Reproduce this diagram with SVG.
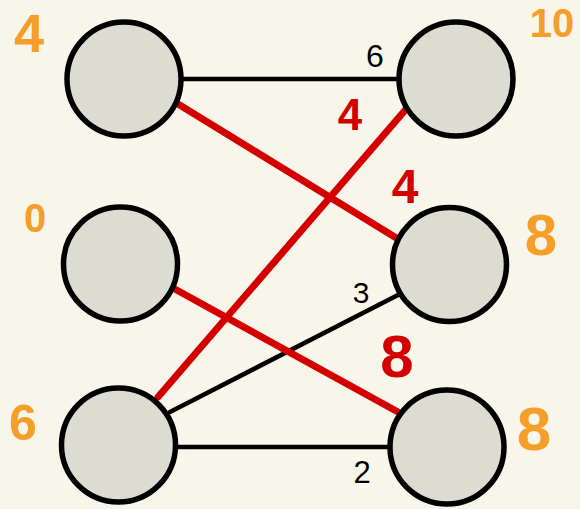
<svg xmlns="http://www.w3.org/2000/svg" width="580" height="509" viewBox="0 0 580 509">
<style>
.node{fill:#dcdcd2;stroke:#000;stroke-width:5.5}
.e{stroke:#000;stroke-width:4.5;stroke-linecap:round;fill:none}
.r{stroke:#d40000;stroke-width:7;stroke-linecap:round;fill:none}
text{font-family:"Liberation Sans","DejaVu Sans",sans-serif;text-anchor:middle}
.w{fill:#f59e29;font-weight:bold}
.lb{fill:#000}
.lr{fill:#d40000;font-weight:bold}
</style>
<rect width="580" height="509" fill="#f8f6eb"/>
<g id="connectors">
<line class="e" x1="124" y1="79" x2="456" y2="79"/>
<line class="e" x1="118" y1="447" x2="447" y2="447"/>
<line class="e" x1="170" y1="412" x2="398" y2="295"/>
<line class="r" x1="178" y1="104" x2="398" y2="239"/>
<line class="r" x1="407" y1="108" x2="158" y2="397"/>
<line class="r" x1="173" y1="288" x2="398" y2="412"/>
<text class="lb" x="375" y="67" font-size="32">6</text>
<text class="lb" x="361" y="303" font-size="30">3</text>
<text class="lb" x="362" y="483" font-size="31">2</text>
<text class="lr" x="350" y="130" font-size="44">4</text>
<text class="lr" x="405" y="203" font-size="48">4</text>
<text class="lr" x="397" y="377" font-size="60">8</text>
</g>
<g id="nodeA"><circle class="node" cx="124" cy="79" r="57"/><text class="w" x="29" y="52" font-size="54">4</text></g>
<g id="nodeB"><circle class="node" cx="456" cy="79" r="57"/><text class="w" x="552" y="37" font-size="40">10</text></g>
<g id="nodeC"><circle class="node" cx="120.5" cy="264" r="57"/><text class="w" x="35" y="232" font-size="40">0</text></g>
<g id="nodeD"><circle class="node" cx="449.5" cy="264.5" r="57"/><text class="w" x="541" y="255" font-size="58">8</text></g>
<g id="nodeE"><circle class="node" cx="118.5" cy="445" r="57"/><text class="w" x="23" y="440" font-size="50">6</text></g>
<g id="nodeF"><circle class="node" cx="447" cy="447" r="57"/><text class="w" x="534" y="450" font-size="62">8</text></g>
</svg>
